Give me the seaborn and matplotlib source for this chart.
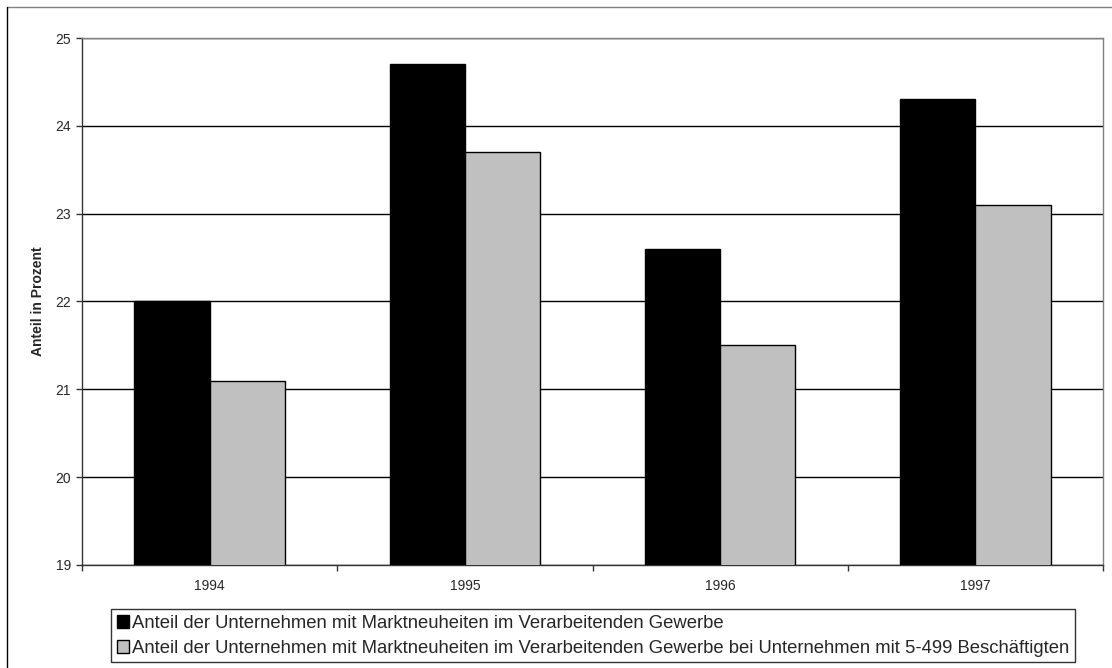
import matplotlib
matplotlib.use("Agg")
import matplotlib.pyplot as plt
import seaborn as sns
import pandas as pd
from matplotlib.lines import Line2D
from matplotlib.ticker import FixedLocator

years = ["1994", "1995", "1996", "1997"]
series_names = [
    "Anteil der Unternehmen mit Marktneuheiten im Verarbeitenden Gewerbe",
    "Anteil der Unternehmen mit Marktneuheiten im Verarbeitenden Gewerbe bei Unternehmen mit 5-499 Beschäftigten",
]
values_all = [22.0, 24.7, 22.6, 24.3]
values_small = [21.1, 23.7, 21.5, 23.1]
y_ticks = [19, 20, 21, 22, 23, 24, 25]
y_label = "Anteil in Prozent"

df = pd.DataFrame({
    "Jahr": years * 2,
    "Reihe": [series_names[0]] * len(years) + [series_names[1]] * len(years),
    "Wert": values_all + values_small,
})

sns.set_style("white")
plt.rcParams["font.family"] = ["Liberation Sans", "DejaVu Sans"]

W, H = 1112, 668
fig = plt.figure(figsize=(W / 100, H / 100), dpi=100)
ax = fig.add_axes([82 / W, 1 - 565 / H, (1103 - 82) / W, (565 - 38) / H])

sns.barplot(
    data=df, x="Jahr", y="Wert", hue="Reihe",
    palette=["#000000", "#c0c0c0"], width=0.59,
    edgecolor="black", linewidth=1.0, ax=ax, legend=True, zorder=3,
)

ax.set_xlim(-0.5, len(years) - 0.5)
ax.set_ylim(19, 25)
ax.set_yticks(y_ticks)
ax.yaxis.grid(True, color="black", linewidth=1.0, zorder=0)
ax.set_axisbelow(True)
ax.set_xlabel("")
ax.set_ylabel(y_label, fontsize=10, fontweight="bold", labelpad=7)
ax.tick_params(axis="y", labelsize=10, length=4, width=1, color="#333333",
               direction="out", left=True, pad=4)
ax.tick_params(axis="x", which="major", labelsize=10, length=0, pad=10)
# category boundary ticks on the x axis
ax.xaxis.set_minor_locator(FixedLocator([i - 0.5 for i in range(len(years) + 1)]))
ax.tick_params(axis="x", which="minor", bottom=True, length=4, width=1,
               color="#333333", direction="out")

for side in ["top", "right"]:
    ax.spines[side].set_color("#808080")
    ax.spines[side].set_linewidth(1.0)
for side in ["left", "bottom"]:
    ax.spines[side].set_color("#333333")
    ax.spines[side].set_linewidth(1.0)

handles, labels = ax.get_legend_handles_labels()
ax.get_legend().remove()
leg = fig.legend(
    handles, labels, loc="upper left",
    bbox_to_anchor=(111 / W, 1 - 609 / H),
    fontsize=13.3, frameon=True, fancybox=False, edgecolor="black",
    handlelength=0.7, handleheight=0.7, handletextpad=0.15,
    borderpad=0.3, labelspacing=0.45, borderaxespad=0,
)
leg.get_frame().set_linewidth(1.0)

# outer chart frame
fig.add_artist(Line2D([7 / W, 1], [1 - 7 / H, 1 - 7 / H], color="#808080", linewidth=1.0))
fig.add_artist(Line2D([7 / W, 7 / W], [0, 1 - 7 / H], color="black", linewidth=1.0))

fig.savefig("out.png", dpi=100)
